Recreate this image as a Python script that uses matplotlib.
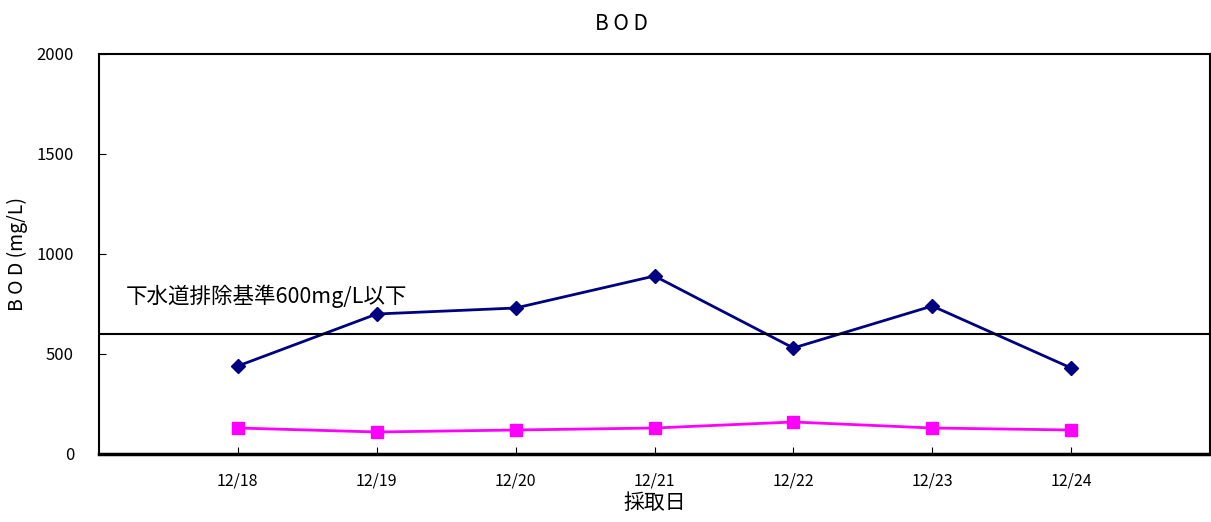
import matplotlib
matplotlib.use("Agg")
import matplotlib.pyplot as plt

plt.rcParams['font.family'] = ['Noto Sans CJK JP', 'DejaVu Sans']

dates = ["12/18", "12/19", "12/20", "12/21", "12/22", "12/23", "12/24"]
bod_navy = [440, 700, 730, 890, 530, 740, 430]
bod_magenta = [130, 110, 120, 130, 160, 130, 120]
standard = 600
standard_label = "下水道排除基準600mg/L以下"

fig = plt.figure(figsize=(12.11, 5.22), dpi=100)
ax = fig.add_axes([99/1211, 1 - 454/522, (1210-99)/1211, 400/522])

x = list(range(len(dates)))
ax.plot(x, bod_navy, color="#000080", marker="D", markersize=7, linewidth=2)
ax.plot(x, bod_magenta, color="#FF00FF", marker="s", markersize=9, linewidth=2)
ax.axhline(standard, color="black", linewidth=1.5)
ax.text(-0.81, 790, standard_label, fontsize=15.5, ha="left", va="center")

ax.set_xlim(-1, 7)
ax.set_ylim(0, 2000)
ax.set_xticks(x)
ax.set_xticklabels(dates, fontsize=11.5)
ax.set_yticks([0, 500, 1000, 1500, 2000])
ax.tick_params(axis="y", direction="in", length=5, labelsize=12, pad=18)
ax.tick_params(axis="x", direction="in", length=5, pad=13)
for s in ax.spines.values():
    s.set_linewidth(1.5)
ax.spines["bottom"].set_linewidth(2.5)

ax.set_xlabel("採取日", fontsize=15, labelpad=2)
ax.set_ylabel("B O D (mg/L)", fontsize=14, labelpad=6)
fig.text(0.513, 1 - 24/522, "B O D", fontsize=15, ha="center", va="center")

fig.savefig("out.png", dpi=100)
